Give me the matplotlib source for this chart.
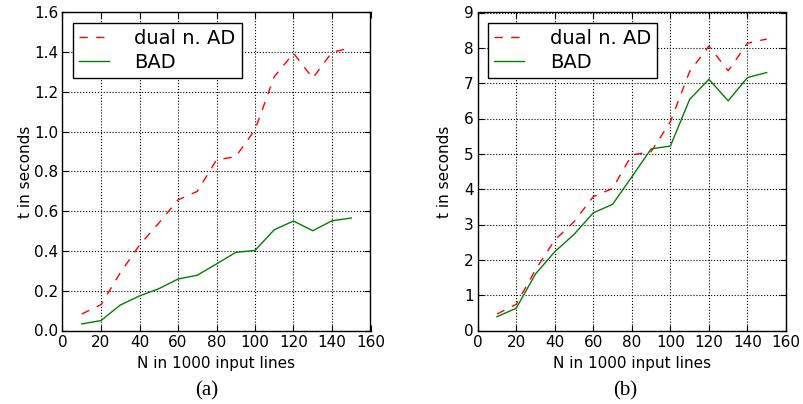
import matplotlib
matplotlib.use('Agg')
import matplotlib.pyplot as plt

# data
n_lines = [10, 20, 30, 40, 50, 60, 70, 80, 90, 100, 110, 120, 130, 140, 150]

dual_a = [0.083, 0.13, 0.29, 0.43, 0.54, 0.657, 0.70, 0.858, 0.875, 1.01, 1.277, 1.395, 1.27, 1.40, 1.423]
bad_a = [0.033, 0.05, 0.128, 0.174, 0.21, 0.259, 0.278, 0.335, 0.393, 0.403, 0.507, 0.551, 0.502, 0.552, 0.566]

dual_b = [0.467, 0.74, 1.72, 2.56, 3.08, 3.79, 4.02, 4.97, 5.06, 5.91, 7.33, 8.05, 7.35, 8.13, 8.25]
bad_b = [0.39, 0.63, 1.6, 2.23, 2.72, 3.33, 3.57, 4.35, 5.14, 5.22, 6.54, 7.11, 6.5, 7.16, 7.3]

panels = [
    (dual_a, bad_a, (0, 1.6), [0.0, 0.2, 0.4, 0.6, 0.8, 1.0, 1.2, 1.4, 1.6], '{:.1f}', '(a)'),
    (dual_b, bad_b, (0, 9), list(range(10)), '{:d}', '(b)'),
]
x_ticks = [0, 20, 40, 60, 80, 100, 120, 140, 160]

W, H = 804, 404
fig = plt.figure(figsize=(W / 100, H / 100), dpi=100)
fig.patch.set_facecolor('white')

# axes boxes in pixels: left, top, right, bottom
boxes = [(62.5, 12.5, 370.5, 330.5), (477.7, 12.5, 786, 330.5)]
captions_x = [207, 625]
ylabel_right = [33, 452]   # right edge of the rotated y label, pixels

for (dual, bad, ylim, yticks, fmt, cap), box, cx, yr in zip(panels, boxes, captions_x, ylabel_right):
    l, t, r, b = box
    ax = fig.add_axes([l / W, (H - b) / H, (r - l) / W, (b - t) / H])
    ax.plot(n_lines, dual, color='r', linestyle='--', dashes=(6, 6), linewidth=1.0, label='dual n. AD')
    ax.plot(n_lines, bad, color='g', linestyle='-', linewidth=1.0, label='BAD')
    ax.set_xlim(0, 160)
    ax.set_ylim(*ylim)
    ax.set_xticks(x_ticks)
    ax.set_yticks(yticks)
    ax.set_yticklabels([fmt.format(v) for v in yticks])
    ax.grid(True, color='k', linestyle=':', linewidth=0.8)
    ax.tick_params(direction='in', top=True, right=True, length=4, width=0.8,
                   labelsize=11, pad=3, colors='k')
    for s in ax.spines.values():
        s.set_linewidth(1.0)
        s.set_color('k')
    ax.set_xlabel('N in 1000 input lines', fontsize=11)
    ax.set_ylabel('t in seconds', fontsize=11)
    ax.xaxis.set_label_coords(0.5, -(356 - b) / (b - t))
    ax.yaxis.set_label_coords((yr - l) / (r - l), 0.5)
    leg = ax.legend(loc='upper left', fontsize=14, fancybox=False, framealpha=1,
                    edgecolor='k', borderpad=0.3, handlelength=1.55, handletextpad=1.3,
                    labelspacing=0.25, borderaxespad=0.55)
    leg.get_frame().set_linewidth(1.0)
    fig.text(cx / W, 1 - 391 / H, cap, ha='center', va='center',
             family='Liberation Serif', fontsize=15)

fig.savefig('out.png', dpi=100, facecolor='white')
